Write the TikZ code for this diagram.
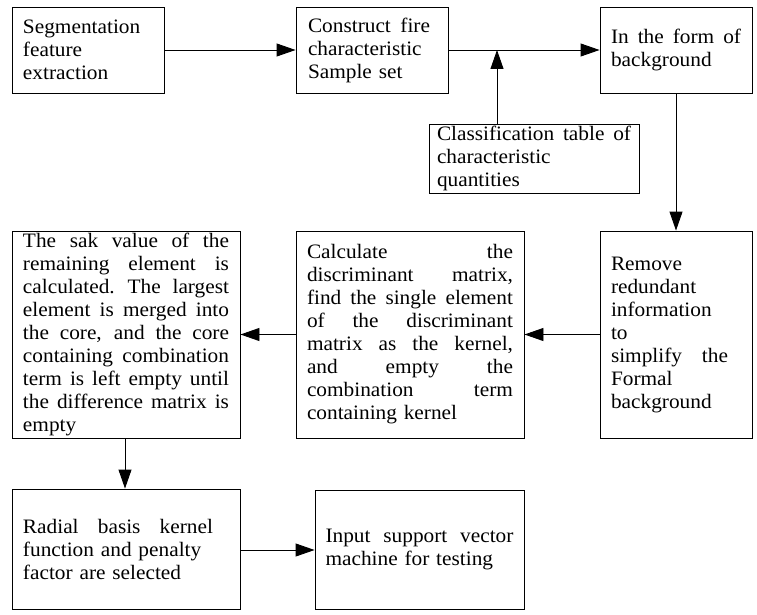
\documentclass[tikz,border=0pt]{standalone}
\usepackage{fontspec}
\setmainfont{Liberation Serif}[FakeStretch=1.04]
\usetikzlibrary{arrows.meta}
\newcommand{\jl}[2][\hsize]{\leavevmode\hbox to #1{\spaceskip=0.25em plus 1fil\xspaceskip=0.3em plus 1fil\relax #2}}
\tikzset{
  box/.style={draw, line width=0.9pt, inner sep=0pt, align=left,
    font=\fontsize{20.5pt}{23pt}\selectfont},
  arr/.style={line width=0.9pt, -{Triangle[length=19pt,width=13pt]}}
}
\begin{document}
\begin{tikzpicture}[x=1pt,y=-1pt]
\useasboundingbox (0,0) rectangle (757,615);
\node[box, minimum width=152pt, minimum height=86pt, text width=130pt] (seg) at (88,50)
  {Segmentation\\feature\\extraction};
\node[box, minimum width=152pt, minimum height=86pt, text width=128pt] (con) at (372,50)
  {\jl[122pt]{Construct fire}\\characteristic\\Sample set};
\node[box, minimum width=152pt, minimum height=86pt, text width=130pt] (form) at (676,50)
  {\jl{In the form of}\\background};
\node[box, minimum width=210pt, minimum height=69pt, text width=194pt] (cls) at (534,158.5)
  {\jl{Classification table of}\\characteristic\\quantities};
\node[box, minimum width=228pt, minimum height=207pt, text width=206pt] (sak) at (126,334.5)
  {\jl{The sak value of the}\\\jl{remaining element is}\\\jl{calculated. The largest}\\\jl{element is merged into}\\\jl{the core, and the core}\\\jl{containing combination}\\\jl{term is left empty until}\\\jl{the difference matrix is}\\empty};
\node[box, minimum width=228pt, minimum height=207pt, text width=206pt] (calc) at (410,334.5)
  {\jl{Calculate the}\\\jl{discriminant matrix,}\\\jl{find the single element}\\\jl{of the discriminant}\\\jl{matrix as the kernel,}\\\jl{and empty the}\\\jl{combination term}\\containing kernel};
\node[box, minimum width=152pt, minimum height=207pt, text width=130pt] (rem) at (676,334.5)
  {Remove\\redundant\\information\\to\\\jl[117pt]{simplify the}\\Formal\\background};
\node[box, minimum width=228pt, minimum height=120pt, text width=206pt] (rad) at (126,549)
  {\jl[190pt]{Radial basis kernel}\\function and penalty\\factor are selected};
\node[box, minimum width=209pt, minimum height=119pt, text width=188pt] (inp) at (419.5,549.5)
  {\jl{Input support vector}\\machine for testing};
\coordinate (j) at (497,50);
\draw[arr] (seg) -- (con);
\draw[arr] (con) -- (form);
\draw[arr] (cls.north -| j) -- (j);
\draw[arr] (form) -- (rem);
\draw[arr] (rem) -- (calc);
\draw[arr] (calc) -- (sak);
\draw[arr] (sak.south -| 125,0) -- (rad.north -| 125,0);
\draw[arr] (rad.east |- 0,550) -- (inp.west |- 0,550);
\end{tikzpicture}
\end{document}
